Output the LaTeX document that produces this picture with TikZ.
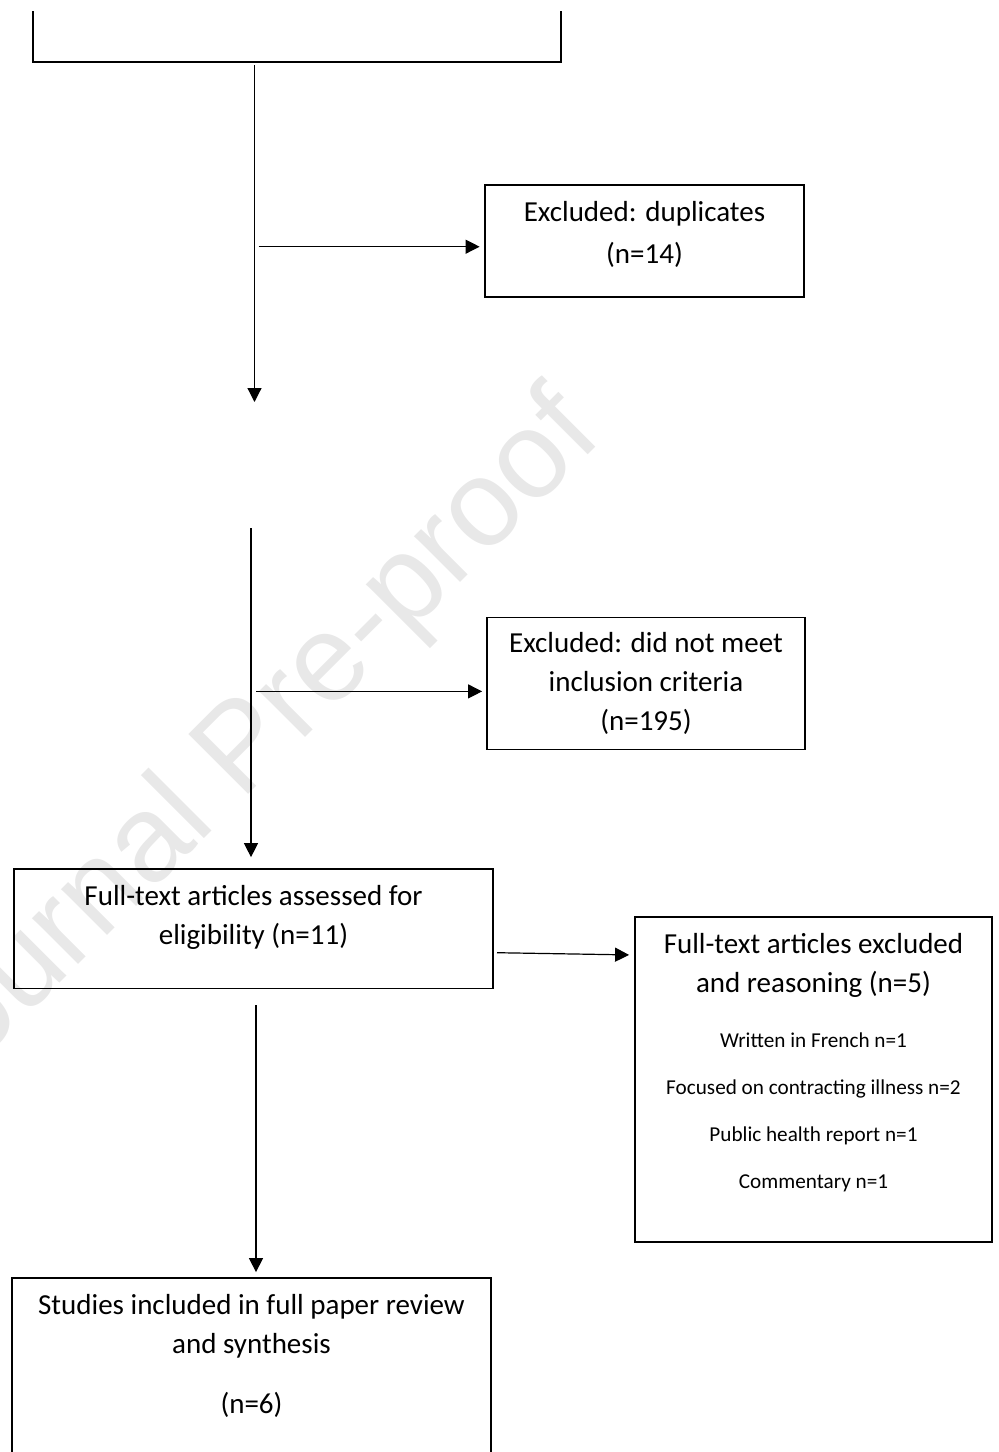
\documentclass[tikz,border=0pt]{standalone}
\usepackage{fontspec}
\setmainfont{Carlito}
\newfontfamily\markfont{Liberation Sans}
\usetikzlibrary{arrows.meta}
\tikzset{box/.style={draw, line width=0.9pt, align=center, inner sep=0pt,
         font=\fontsize{14.5}{19.5}\selectfont},
         flow/.style={-{Triangle[length=7pt,width=7pt]}, line width=0.6pt}}
\newcommand{\smalltxt}{\fontsize{10.6}{13}\selectfont}

\begin{document}
\begin{tikzpicture}[x=0.5pt,y=-0.5pt]
\useasboundingbox (0,0) rectangle (998,1452);
\node[font=\markfont\fontsize{61.5}{66}\selectfont, text=black!9, rotate=45] (watermark) at (246,752) {Journal Pre-proof};
\draw[line width=0.9pt] (33,11) -- (33,62) -- (561,62) -- (561,11);
\node[box, minimum width=159.5pt, minimum height=55.8pt, text depth=8.5pt] (dup) at (644.5,240.8) {Excluded: duplicates\\[1.3pt](n=14)};
\node[box, minimum width=159pt, minimum height=66pt] (incl) at (646,683.5) {Excluded: did not meet\\inclusion criteria\\(n=195)};
\node[box, minimum width=239.5pt, minimum height=59.75pt, text depth=13.8pt] (full) at (253.5,928.8) {Full-text articles assessed for\\eligibility (n=11)};
\node[box, minimum width=178.5pt, minimum height=162.3pt, text depth=18.8pt] (reason) at (813.5,1079.3) {Full-text articles excluded\\and reasoning (n=5)\\[8pt]{\smalltxt Written in French n=1}\\[4pt]{\smalltxt Focused on contracting illness n=2}\\[4pt]{\smalltxt Public health report n=1}\\[4pt]{\smalltxt Commentary n=1}};
\node[box, minimum width=239.2pt, minimum height=101pt, text depth=25.5pt] (studies) at (251.5,1379) {Studies included in full paper review\\and synthesis\\[10.5pt](n=6)};
\coordinate (v1top) at (254.5,65);
\coordinate (v1end) at (254.5,402);
\coordinate (b1) at (258.5,246.7);
\coordinate (v2top) at (251,528);
\coordinate (b2) at (256,691.4);
\coordinate (r1) at (497,952.7);
\coordinate (v3top) at (256,1005);
\draw[flow] (v1top) -- (v1end);
\draw[flow, shorten >=2.25pt] (b1) -- (b1 -| dup.west);
\draw[flow, shorten >=5.5pt] (v2top) -- (v2top |- full.north);
\draw[flow, shorten >=2pt] (b2) -- (b2 -| incl.west);
\draw[flow, shorten >=2.5pt] (r1) -- ([yshift=-1.15pt]r1 -| reason.west);
\draw[flow, shorten >=2.5pt] (v3top) -- (v3top |- studies.north);
\end{tikzpicture}
\end{document}
